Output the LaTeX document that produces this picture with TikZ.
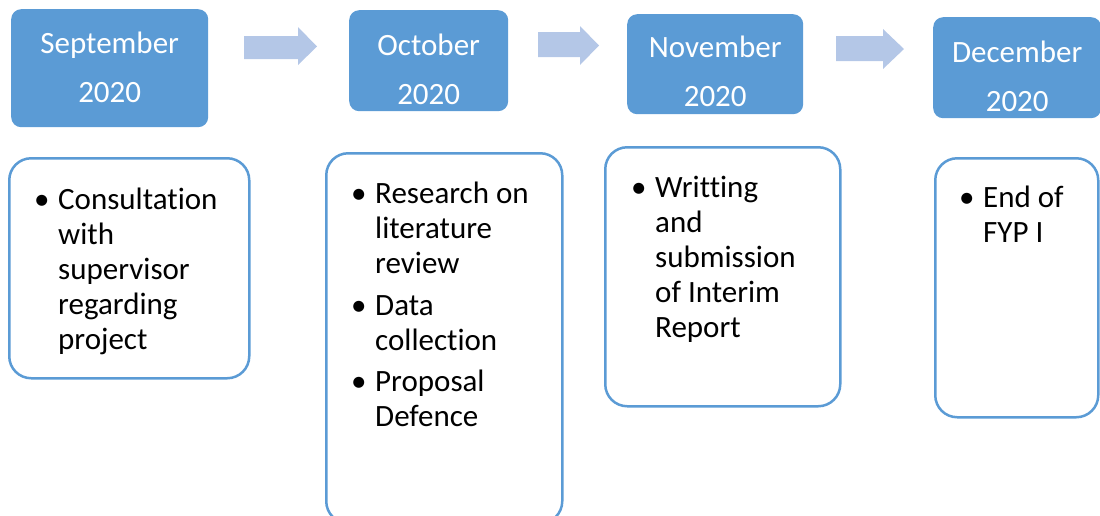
\documentclass[tikz,border=0pt]{standalone}
\usepackage{fontspec}
\setmainfont{Carlito}[Ligatures=NoCommon]
\usetikzlibrary{calc}
\definecolor{hdrblue}{HTML}{5B9BD5}
\definecolor{arrowblue}{HTML}{B4C7E7}
% bullet hung in the left margin of a task list
\newcommand\taskbullet{\llap{\makebox[24pt][l]{\textbullet}}}

\begin{document}
\begin{tikzpicture}[x=1pt,y=-1pt,
  monthbox/.style={fill=hdrblue, rounded corners=10pt, inner sep=0pt, anchor=north west},
  monthtext/.style={text=white, align=center, inner sep=0pt, anchor=north,
                    font=\fontsize{31}{49}\selectfont},
  taskbox/.style={draw=hdrblue, line width=2.5pt, fill=white, rounded corners=22pt,
                  inner sep=0pt, anchor=north west},
  tasktext/.style={align=left, inner sep=0pt, anchor=north west,
                   font=\fontsize{31}{35}\selectfont},
  flowarrow/.style={fill=arrowblue}]
\useasboundingbox (0,0) rectangle (1100,515);

% month headers
\node[monthbox, minimum width=197pt, minimum height=118pt] (sep) at (11,9) {};
\node[monthbox, minimum width=159pt, minimum height=101pt] (oct) at (349,10) {};
\node[monthbox, minimum width=176pt, minimum height=100pt] (nov) at (627,14) {};
\node[monthbox, minimum width=168pt, minimum height=101pt] (dec) at (933,17) {};

\node[monthtext] (septxt) at ($(sep.north)+(0,12)$) {\rule{0pt}{32pt}September\\2020};
\node[monthtext] (octtxt) at ($(oct.north)+(0,13)$) {\rule{0pt}{32pt}October\\2020};
\node[monthtext] (novtxt) at ($(nov.north)+(0,11)$) {\rule{0pt}{32pt}November\\2020};
\node[monthtext] (dectxt) at ($(dec.north)+(0,13)$) {\rule{0pt}{32pt}December\\2020};

% block arrows between the months
\fill[flowarrow] (244,36) -- (298,36) -- (298,27) -- (317,46.5) -- (298,65) -- (298,59) -- (244,59) -- cycle;
\fill[flowarrow] (538,32) -- (580,32) -- (580,26) -- (599,45.5) -- (580,65) -- (580,57) -- (538,57) -- cycle;
\fill[flowarrow] (836,36) -- (883,36) -- (883,29) -- (904,49) -- (883,69) -- (883,61) -- (836,61) -- cycle;

% task boxes
\node[taskbox, minimum width=240pt, minimum height=220pt] (t1) at (8,157) {};
\node[taskbox, minimum width=236pt, minimum height=370pt] (t2) at (325,152) {};
\node[taskbox, minimum width=235pt, minimum height=259pt] (t3) at (604,146) {};
\node[taskbox, minimum width=163pt, minimum height=259pt] (t4) at (934,157) {};

\node[tasktext] (t1txt) at ($(t1.north west)+(50,22)$)
  {\rule{0pt}{30pt}\taskbullet Consultation\\with\\supervisor\\regarding\\project};
\node[tasktext] (t2txt) at ($(t2.north west)+(50,21)$)
  {\rule{0pt}{30pt}\taskbullet Research on\\literature\\review\\[7pt]
   \taskbullet Data\\collection\\[6pt]
   \taskbullet Proposal\\Defence};
\node[tasktext] (t3txt) at ($(t3.north west)+(51,21)$)
  {\rule{0pt}{30pt}\taskbullet Writting\\and\\submission\\of Interim\\Report};
\node[tasktext] (t4txt) at ($(t4.north west)+(49,20)$)
  {\rule{0pt}{30pt}\taskbullet End of\\FYP I};
\end{tikzpicture}
\end{document}
